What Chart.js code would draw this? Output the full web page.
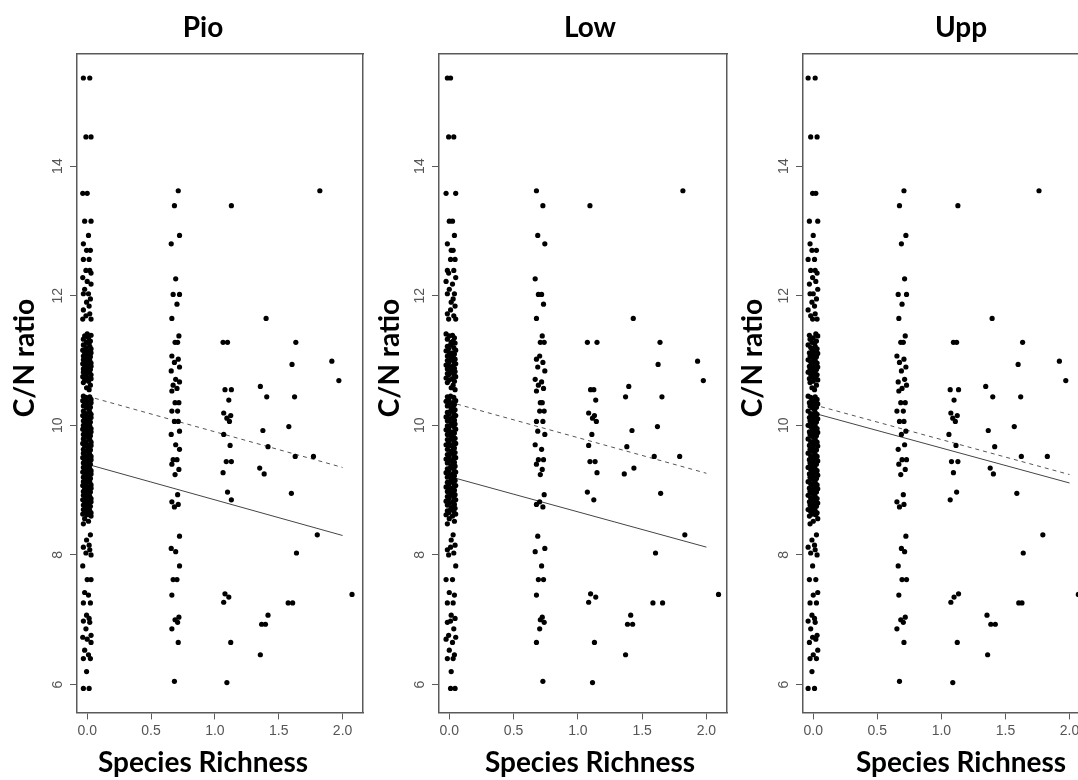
<!DOCTYPE html>
<html>
<head>
<meta charset="utf-8">
<script src="https://cdn.jsdelivr.net/npm/chart.js@4.4.0/dist/chart.umd.min.js"></script>
<style>
  html, body { margin: 0; padding: 0; width: 1078px; height: 780px; overflow: hidden; background: #fff; }
  canvas { position: absolute; top: 0; }
</style>
</head>
<body>
<canvas id="c0" width="406" height="780" style="left:0px"></canvas>
<canvas id="c1" width="440" height="780" style="left:370px"></canvas>
<canvas id="c2" width="452" height="780" style="left:735px"></canvas>
<script>
// ***** data *****
const panelNames = ['Pio', 'Low', 'Upp']
const richnessX = [0, 0.693, 1.099, 1.386, 1.609, 1.792, 1.946, 2.079]

const cnAt0 = [15.36, 15.36, 14.45, 14.45, 13.58, 13.58, 13.15, 13.15, 12.93, 12.80, 12.70, 12.70,
  12.56, 12.56, 12.39, 12.39, 12.35, 12.28, 12.22, 12.18, 12.10, 12.03, 12.03, 11.95, 11.90, 11.84,
  11.78, 11.72, 11.69, 11.64, 11.64,
  11.41, 11.39, 11.38, 11.35, 11.33, 11.30, 11.28, 11.27, 11.24, 11.22, 11.20, 11.18, 11.16, 11.15,
  11.12, 11.11, 11.10, 11.07, 11.06, 11.05, 11.02, 11.01, 11.00, 10.98, 10.96, 10.95, 10.93, 10.91,
  10.90, 10.88, 10.87, 10.86, 10.84, 10.83, 10.82, 10.80, 10.79, 10.78, 10.75, 10.73, 10.72, 10.70,
  10.68, 10.66, 10.62, 10.58, 10.55,
  10.45, 10.44, 10.43, 10.40, 10.38, 10.37, 10.35, 10.33, 10.32, 10.30, 10.28, 10.27, 10.24, 10.22,
  10.20, 10.18, 10.17, 10.15, 10.13, 10.12, 10.10, 10.08, 10.07, 10.05, 10.03, 10.02, 10.00, 9.99,
  9.98, 9.95, 9.94, 9.93, 9.90, 9.89, 9.88, 9.86, 9.84, 9.83, 9.80, 9.79, 9.78, 9.75, 9.74, 9.72,
  9.70, 9.69, 9.68, 9.65, 9.63, 9.62, 9.60, 9.58, 9.57, 9.55, 9.53, 9.52, 9.50, 9.48, 9.47, 9.45,
  9.43, 9.42, 9.40, 9.38, 9.37, 9.35, 9.33, 9.32, 9.30, 9.28, 9.27, 9.25, 9.23, 9.22, 9.20, 9.18,
  9.17, 9.15, 9.13, 9.12, 9.10, 9.08, 9.07, 9.05, 9.03, 9.02, 9.00, 8.98, 8.97, 8.95, 8.93, 8.92,
  8.90, 8.88, 8.87, 8.85, 8.83, 8.82, 8.80, 8.78, 8.77, 8.75, 8.73, 8.72, 8.70, 8.68, 8.67, 8.65,
  8.63, 8.62, 8.60, 8.56, 8.52, 8.48,
  8.31, 8.23, 8.15, 8.12, 8.08, 8.03, 8.00, 7.83, 7.62, 7.62, 7.42, 7.38, 7.26, 7.26, 7.07, 7.02,
  6.98, 6.96, 6.86, 6.76, 6.73, 6.70, 6.65, 6.53, 6.46, 6.40, 6.40, 6.20, 5.94, 5.94]
const cnAt1 = [13.62, 13.39, 12.93, 12.80, 12.26, 12.02, 12.02, 11.87, 11.65, 11.38, 11.28, 11.28,
  11.07, 11.02, 10.97, 10.90, 10.84, 10.71, 10.67, 10.62, 10.57, 10.53, 10.35, 10.35, 10.22, 10.22,
  10.06, 10.06, 9.91, 9.86, 9.70, 9.63, 9.47, 9.47, 9.40, 9.32, 9.24, 8.93, 8.82, 8.78, 8.74, 8.29,
  8.10, 8.05, 7.83, 7.62, 7.62, 7.38, 7.04, 7.00, 6.96, 6.86, 6.65, 6.05]
const cnAt2 = [13.39, 11.28, 11.28, 10.55, 10.55, 10.39, 10.19, 10.15, 10.11, 10.06, 9.86, 9.69,
  9.44, 9.44, 9.27, 8.97, 8.85, 7.40, 7.35, 7.27, 6.65, 6.03]
const cnAt3 = [11.65, 10.60, 10.44, 9.92, 9.67, 9.34, 9.25, 7.07, 6.93, 6.93, 6.46]
const cnAt4 = [11.28, 10.94, 10.44, 9.98, 9.52, 8.95, 8.03, 7.26, 7.26]
const cnAt5 = [13.62, 9.52, 8.31]
const cnAt6 = [10.99, 10.69]
const cnAt7 = [7.39]
const cnColumns = [cnAt0, cnAt1, cnAt2, cnAt3, cnAt4, cnAt5, cnAt6, cnAt7]

// horizontal jitter as seen in each panel
const jitterPio = [-0.03, 0.02, -0.01, 0.03, -0.035, 0.0, 0.03, -0.02, 0.01, -0.03, 0.025, -0.005, 0.015]
const jitterLow = [0.01, -0.015, 0.035, -0.005, 0.05, -0.025, 0.025, 0.0, 0.04, -0.015, 0.03, 0.015, 0.045]
const jitterUpp = [-0.04, 0.015, -0.02, 0.03, -0.005, 0.02, -0.03, 0.035, 0.0, -0.025, 0.025, -0.01, 0.01]
const jitters = [jitterPio, jitterLow, jitterUpp]

// fitted lines, value at x = 0 and at x = 2
const fitX = [0, 2.0]
const solidFit = [[9.40, 8.30], [9.21, 8.12], [10.19, 9.11]]
const dashedFit = [[10.45, 9.35], [10.36, 9.26], [10.32, 9.24]]

const xTicks = [0, 0.5, 1.0, 1.5, 2.0]
const yTicks = [6, 8, 10, 12, 14]

// ***** layout of each panel on the page *****
const frames = [
  { yW: 77, y2W: 43, yTitleX: 25 },
  { yW: 69, y2W: 83, yTitleX: 20 },
  { yW: 68, y2W: 97, yTitleX: 18 },
]

const axisColor = '#5a5a5a'
const bigFont = { family: 'Lato', weight: 'bold', size: 28 }
const tickFont = { family: 'Liberation Sans', size: 14 }

Chart.defaults.font.family = 'Liberation Sans'

// y axis title, drawn a bit above the middle of the plot like the original
const yTitlePlugin = {
  id: 'yTitle',
  afterDraw(chart, args, opts) {
    const c = chart.ctx
    c.save()
    c.font = 'bold 28px Lato'
    c.fillStyle = '#000'
    c.textAlign = 'center'
    c.textBaseline = 'middle'
    c.translate(opts.x, opts.y)
    c.rotate(-Math.PI / 2)
    c.fillText(opts.text, 0, 0)
    c.restore()
  }
}

const makePoints = p => {
  const pts = []
  const jit = jitters[p]
  let k = 0
  cnColumns.forEach((col, c) => {
    col.forEach(v => {
      pts.push({ x: richnessX[c] + jit[k % jit.length], y: v })
      k++
    })
  })
  return pts
}

const fitLine = vals => fitX.map((x, i) => ({ x: x, y: vals[i] }))

panelNames.forEach((name, p) => {
  const f = frames[p]
  const ctx = document.getElementById('c' + p).getContext('2d')
  new Chart(ctx, {
    type: 'scatter',
    plugins: [yTitlePlugin],
    data: {
      datasets: [
        {
          data: makePoints(p),
          backgroundColor: '#000',
          borderWidth: 0,
          pointRadius: 2.6,
        },
        {
          type: 'line',
          data: fitLine(solidFit[p]),
          borderColor: '#444',
          borderWidth: 1,
          pointRadius: 0,
        },
        {
          type: 'line',
          data: fitLine(dashedFit[p]),
          borderColor: '#555',
          borderWidth: 1,
          borderDash: [4, 4],
          pointRadius: 0,
        },
      ]
    },
    options: {
      responsive: false,
      animation: false,
      events: [],
      plugins: {
        legend: { display: false },
        tooltip: { enabled: false },
        title: {
          display: true,
          text: name,
          color: '#000',
          font: bigFont,
          padding: { top: 11, bottom: 9.4 },
        },
        subtitle: {
          display: true,
          text: 'Species Richness',
          position: 'bottom',
          color: '#000',
          font: bigFont,
          padding: 0,
        },
        yTitle: { text: 'C/N ratio', x: f.yTitleX, y: 358 },
      },
      scales: {
        x: {
          type: 'linear',
          min: -0.08,
          max: 2.16,
          afterBuildTicks: s => { s.ticks = xTicks.map(v => ({ value: v })) },
          afterFit: s => { s.height = 34 },
          ticks: {
            callback: v => v.toFixed(1),
            font: tickFont,
            color: '#555',
            padding: 3,
            minRotation: 0,
            maxRotation: 0,
            autoSkip: false,
          },
          grid: { drawOnChartArea: false, tickLength: 7, color: axisColor, lineWidth: 1 },
          border: { color: axisColor, width: 1.5 },
        },
        y: {
          type: 'linear',
          min: 5.57,
          max: 15.73,
          afterBuildTicks: s => { s.ticks = yTicks.map(v => ({ value: v })) },
          afterFit: s => { s.width = f.yW },
          ticks: {
            callback: v => String(v),
            font: tickFont,
            color: '#555',
            padding: 4,
            minRotation: 90,
            maxRotation: 90,
            crossAlign: 'center',
            autoSkip: false,
          },
          grid: { drawOnChartArea: false, tickLength: 7, color: axisColor, lineWidth: 1 },
          border: { color: axisColor, width: 1.5 },
        },
        // frame lines on top and right
        xTop: {
          type: 'linear',
          position: 'top',
          min: 0,
          max: 1,
          afterFit: s => { s.height = 0 },
          ticks: { display: false },
          grid: { display: false },
          border: { color: axisColor, width: 1.5 },
        },
        yRight: {
          type: 'linear',
          position: 'right',
          min: 0,
          max: 1,
          afterFit: s => { s.width = f.y2W },
          ticks: { display: false },
          grid: { display: false },
          border: { color: axisColor, width: 1.5 },
        },
      },
    },
  })
})
</script>
</body>
</html>
